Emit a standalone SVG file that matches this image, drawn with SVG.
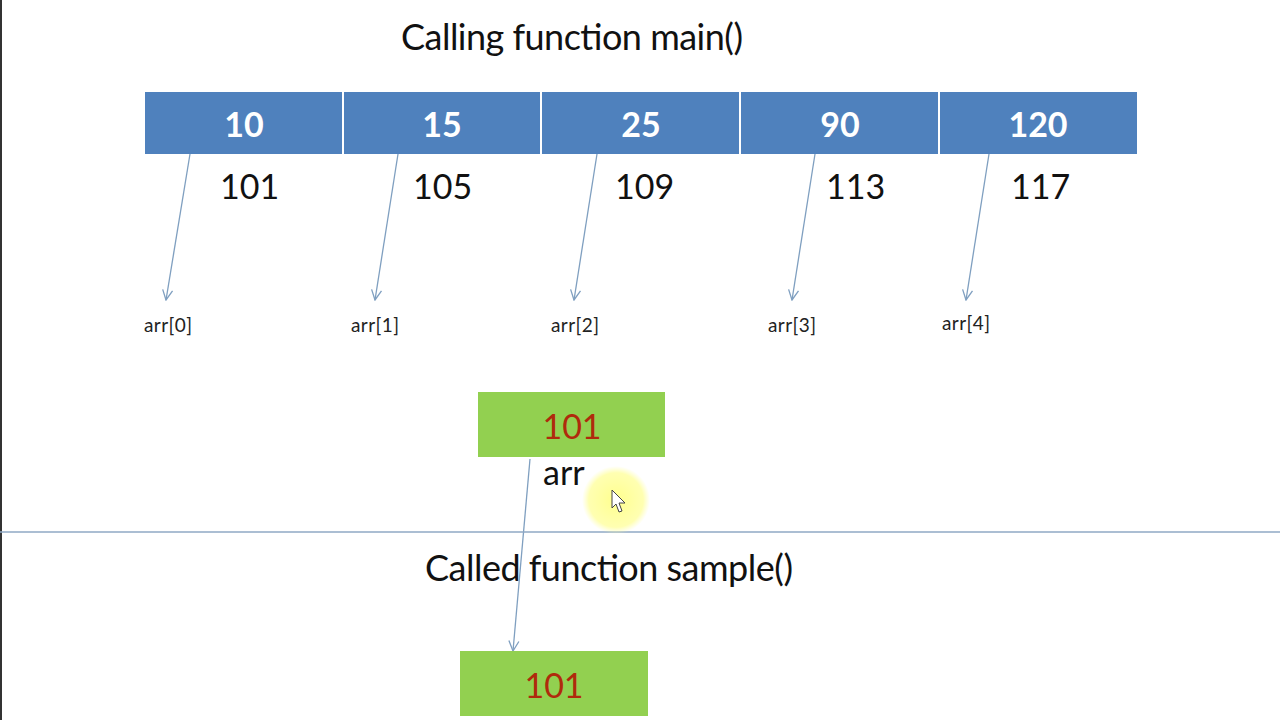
<svg xmlns="http://www.w3.org/2000/svg" width="1280" height="720" viewBox="0 0 1280 720">
<defs>
<style>
.title{font-family:Lato,"Liberation Sans",sans-serif;font-size:36px;fill:#111}
.cell{fill:#4f81bd}
.cellt{font-family:Lato,"Liberation Sans",sans-serif;font-size:34px;font-weight:bold;fill:#fff;text-anchor:middle}
.addr{font-family:Lato,"Liberation Sans",sans-serif;font-size:34px;fill:#111}
.lbl{font-family:Lato,"Liberation Sans",sans-serif;font-size:19px;fill:#222}
.green{fill:#92d050}
.red{font-family:Lato,"Liberation Sans",sans-serif;font-size:34px;fill:#b02a0c;text-anchor:middle}
.conn{stroke:#7f9fc0;stroke-width:1.3;fill:none;marker-end:url(#arr)}
</style>
<marker id="arr" viewBox="0 0 12 12" refX="11" refY="6" markerWidth="12" markerHeight="12" markerUnits="userSpaceOnUse" orient="auto">
<path d="M1 1 L11 6 L1 11" fill="none" stroke="#7f9fc0" stroke-width="1.3"/>
</marker>
<radialGradient id="glow"><stop offset="0" stop-color="#ffff80" stop-opacity="0.9"/><stop offset="0.8" stop-color="#ffff90" stop-opacity="0.7"/><stop offset="1" stop-color="#ffffa0" stop-opacity="0"/></radialGradient>
</defs>
<rect width="1280" height="720" fill="#fff"/>
<rect x="0" y="0" width="2" height="720" fill="#333"/>
<text class="title" x="401" y="50" textLength="342">Calling function main()</text>
<g id="array">
<rect class="cell" x="145" y="92" width="992" height="62"/>
<g stroke="#fff" stroke-width="2"><line x1="343" y1="92" x2="343" y2="154"/><line x1="541" y1="92" x2="541" y2="154"/><line x1="740" y1="92" x2="740" y2="154"/><line x1="939" y1="92" x2="939" y2="154"/></g>
<text class="cellt" x="244" y="137">10</text>
<text class="cellt" x="442" y="137">15</text>
<text class="cellt" x="641" y="137">25</text>
<text class="cellt" x="840" y="137">90</text>
<text class="cellt" x="1038" y="137">120</text>
</g>
<g id="addresses">
<text class="addr" x="220" y="199">101</text>
<text class="addr" x="413" y="199">105</text>
<text class="addr" x="615" y="199">109</text>
<text class="addr" x="826" y="199">113</text>
<text class="addr" x="1011" y="199">117</text>
</g>
<g id="labels">
<text class="lbl" x="144" y="332" textLength="48">arr[0]</text>
<text class="lbl" x="351" y="332" textLength="48">arr[1]</text>
<text class="lbl" x="551" y="332" textLength="48">arr[2]</text>
<text class="lbl" x="768" y="332" textLength="48">arr[3]</text>
<text class="lbl" x="942" y="330" textLength="48">arr[4]</text>
</g>
<g id="connectors">
<line class="conn" x1="190" y1="154" x2="166" y2="300"/>
<line class="conn" x1="398" y1="154" x2="375" y2="300"/>
<line class="conn" x1="597" y1="154" x2="574" y2="300"/>
<line class="conn" x1="815" y1="154" x2="792" y2="300"/>
<line class="conn" x1="989" y1="154" x2="966" y2="300"/>
<line class="conn" x1="530" y1="459" x2="513" y2="651"/>
</g>
<g id="ptr">
<rect class="green" x="478" y="392" width="187" height="65"/>
<text class="red" x="572" y="439">101</text>
<text class="addr" x="543" y="485">arr</text>
</g>
<line x1="0" y1="532" x2="1280" y2="532" stroke="#8fa9c5" stroke-width="1.5"/>
<text class="title" x="425" y="581" textLength="368">Called function sample()</text>
<g id="param">
<rect class="green" x="460" y="651" width="188" height="65"/>
<text class="red" x="554" y="698">101</text>
</g>
<g id="cursor">
<circle cx="616" cy="500" r="34" fill="url(#glow)"/>
<path d="M612 490 L612 508 L616 504 L619 512 L622 511 L619 503 L625 503 Z" fill="#fff" stroke="#444" stroke-width="1"/>
</g>
</svg>
